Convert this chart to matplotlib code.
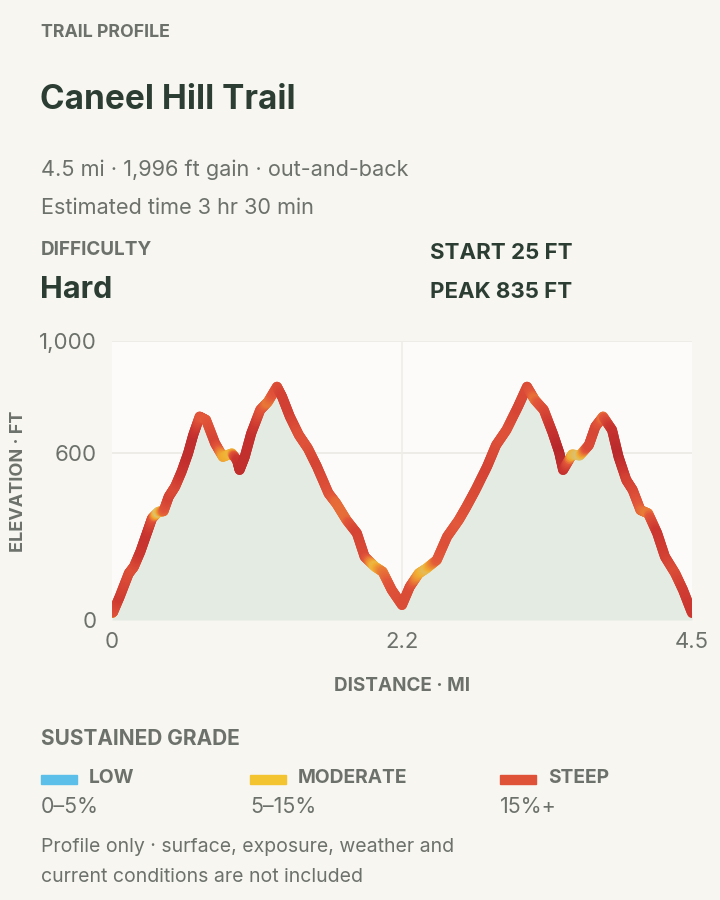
import numpy as np
import matplotlib
matplotlib.use("Agg")
import matplotlib.pyplot as plt
from matplotlib.collections import LineCollection
from matplotlib.colors import LinearSegmentedColormap
from matplotlib.patches import Rectangle

plt.rcParams['font.family'] = ['Inter', 'DejaVu Sans']

# profile (miles, feet)
distance_mi = [0.00, 0.01, 0.06, 0.13, 0.17, 0.22, 0.27, 0.31, 0.36, 0.40, 0.44, 0.49,
               0.54, 0.59, 0.63, 0.68, 0.73, 0.80, 0.86, 0.93, 0.97, 0.99, 1.03, 1.08,
               1.15, 1.21, 1.28, 1.32, 1.38, 1.45, 1.52, 1.59, 1.68, 1.74, 1.82, 1.90,
               1.96, 2.04, 2.10, 2.17, 2.25, 2.31, 2.38, 2.44, 2.52, 2.60, 2.69, 2.75,
               2.82, 2.91, 2.98, 3.06, 3.15, 3.22, 3.28, 3.35, 3.42, 3.47, 3.50, 3.57,
               3.63, 3.70, 3.75, 3.81, 3.88, 3.93, 3.99, 4.04, 4.10, 4.16, 4.23, 4.29,
               4.37, 4.43, 4.50]
elevation_ft = [25, 30, 84, 167, 191, 245, 311, 364, 388, 390, 442, 478,
                532, 597, 663, 729, 717, 633, 585, 597, 573, 538, 585, 669,
                753, 782, 836, 800, 729, 663, 615, 550, 454, 418, 358, 311,
                227, 191, 173, 108, 54, 119, 167, 185, 215, 299, 358, 406,
                466, 550, 627, 681, 765, 836, 789, 753, 669, 600, 538, 593,
                590, 627, 693, 729, 681, 585, 502, 466, 394, 382, 311, 227,
                167, 108, 25]

title = "Caneel Hill Trail"
eyebrow = "TRAIL PROFILE"
summary = "4.5 mi · 1,996 ft gain · out-and-back"
est_time = "Estimated time 3 hr 30 min"
difficulty = "Hard"
start_ft = 25
peak_ft = 835

x_ticks = [0, 2.25, 4.5]
x_tick_labels = ["0", "2.2", "4.5"]
y_ticks = [0, 600, 1000]
y_tick_labels = ["0", "600", "1,000"]

grade_names = ["LOW", "MODERATE", "STEEP"]
grade_ranges = ["0–5%", "5–15%", "15%+"]
grade_colors = ["#5bbfea", "#f4c430", "#df5237"]

BG = "#f7f6f1"
DARK = "#2c3e33"
GREY = "#6c716b"

W, H = 720, 900
fig = plt.figure(figsize=(7.2, 9), dpi=100, facecolor=BG)


def fx(px):
    return px / W


def fy(py):
    return 1 - py / H


# header text
fig.text(fx(41), fy(37), eyebrow, fontsize=12.8, fontweight='bold', color=GREY, va='baseline')
fig.text(fx(40), fy(109), title, fontsize=24, fontweight='bold', color=DARK, va='baseline')
fig.text(fx(41), fy(176), summary, fontsize=15.6, color=GREY, va='baseline')
fig.text(fx(41), fy(214), est_time, fontsize=15.6, color=GREY, va='baseline')
fig.text(fx(41), fy(255), "DIFFICULTY", fontsize=13.6, fontweight='bold', color=GREY, va='baseline')
fig.text(fx(40), fy(298), difficulty, fontsize=22, fontweight='bold', color=DARK, va='baseline')
fig.text(fx(430), fy(259), f"START {start_ft} FT", fontsize=16, fontweight='bold', color=DARK, va='baseline')
fig.text(fx(430), fy(298), f"PEAK {peak_ft} FT", fontsize=16, fontweight='bold', color=DARK, va='baseline')

# chart
ax = fig.add_axes([fx(112), fy(620), fx(692) - fx(112), fy(341) - fy(620)])
ax.set_facecolor("#fcfbf9")
ax.set_xlim(0, 4.5)
ax.set_ylim(0, 1000)
for s in ax.spines.values():
    s.set_visible(False)

for yv in [600, 1000]:
    ax.axhline(yv, color="#ebe9e4", lw=1.2, zorder=0)
ax.axvline(2.25, color="#efede8", lw=1.2, zorder=0)

d = np.array(distance_mi)
e = np.array(elevation_ft)
ax.fill_between(d, e, 0, color="#e4ebe3", zorder=1, lw=0)

# grade per segment, smoothed at vertices
seg_grade = np.abs(np.diff(e)) / (np.diff(d) * 5280) * 100
vert_grade = np.empty(len(d))
vert_grade[0] = seg_grade[0]
vert_grade[-1] = seg_grade[-1]
vert_grade[1:-1] = (seg_grade[:-1] + seg_grade[1:]) / 2

# grade scale 0..32 %
cmap = LinearSegmentedColormap.from_list(
    "grade", [(0.0, "#a9c8a4"), (0.16, "#d8c47c"), (0.25, "#f2b232"),
              (0.34, "#ec8a34"), (0.44, "#e2563a"), (0.7, "#cc3730"), (1.0, "#b8282b")])

segs, cols = [], []
n_sub = 10
for i in range(len(d) - 1):
    ts = np.linspace(0, 1, n_sub + 1)
    xs = d[i] + (d[i + 1] - d[i]) * ts
    ys = e[i] + (e[i + 1] - e[i]) * ts
    gs = vert_grade[i] + (vert_grade[i + 1] - vert_grade[i]) * ts
    for k in range(n_sub):
        segs.append([(xs[k], ys[k]), (xs[k + 1], ys[k + 1])])
        cols.append(cmap(float(min((gs[k] + gs[k + 1]) / 2 / 32, 1.0))))
lc = LineCollection(segs, colors=cols, linewidths=7.2, capstyle='round', joinstyle='round', zorder=3)
ax.add_collection(lc)

ax.set_xticks(x_ticks)
ax.set_xticklabels(x_tick_labels)
ax.set_yticks(y_ticks)
ax.set_yticklabels(y_tick_labels)
ax.tick_params(axis='both', length=0, labelsize=16, labelcolor=GREY)
ax.tick_params(axis='y', pad=11)
ax.tick_params(axis='x', pad=9)

fig.text(fx(402), fy(691), "DISTANCE · MI", fontsize=13.6, fontweight='bold', color=GREY,
         ha='center', va='baseline')
fig.text(fx(19), fy(481), "ELEVATION · FT", fontsize=13, fontweight='bold', color=GREY,
         ha='center', va='center', rotation=90)

# legend
fig.text(fx(41), fy(745), "SUSTAINED GRADE", fontsize=15, fontweight='bold', color=GREY, va='baseline')
legend_x = [41, 250, 500]
for x0, name, rng, c in zip(legend_x, grade_names, grade_ranges, grade_colors):
    fig.patches.append(Rectangle((fx(x0), fy(784)), fx(36), fy(775) - fy(784),
                                 transform=fig.transFigure, color=c, figure=fig))
    fig.text(fx(x0 + 48), fy(783), name, fontsize=13.8, fontweight='bold', color=GREY, va='baseline')
    fig.text(fx(x0), fy(813), rng, fontsize=15.4, color=GREY, va='baseline')

fig.text(fx(41), fy(852), "Profile only · surface, exposure, weather and", fontsize=14, color=GREY, va='baseline')
fig.text(fx(41), fy(882), "current conditions are not included", fontsize=14, color=GREY, va='baseline')

fig.savefig("out.png", dpi=100, facecolor=BG)
